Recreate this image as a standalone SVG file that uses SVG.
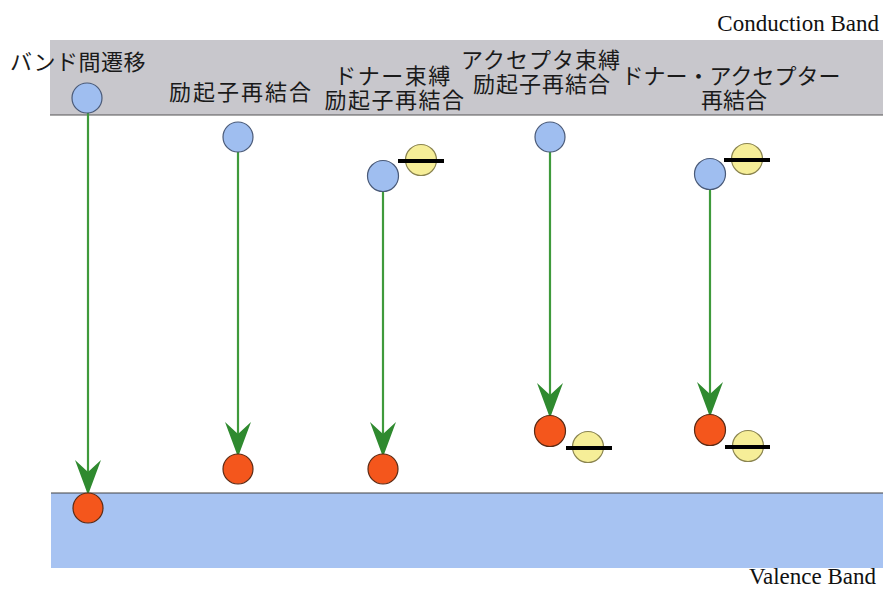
<svg xmlns="http://www.w3.org/2000/svg" width="883" height="590" viewBox="0 0 883 590">
<style>
.jp{font-family:"Noto Sans CJK JP","Noto Sans CJK SC",sans-serif;font-size:22px;fill:#1a1a1a;text-anchor:middle}
.en{font-family:"Liberation Serif","Times New Roman","DejaVu Serif",serif;font-size:23px;fill:#111;text-anchor:end}
.e{fill:#9fbef0;stroke:#4a5a78;stroke-width:1.2}
.h{fill:#f4561c;stroke:#5a2a14;stroke-width:1.2}
.y{fill:#f6ee98;stroke:#8a8450;stroke-width:1.2}
.bar{stroke:#000;stroke-width:4}
.ar{stroke:#3f9a3c;stroke-width:2.2;fill:none;marker-end:url(#ah)}
</style>
<defs>
<marker id="ah" markerUnits="userSpaceOnUse" viewBox="-38 -15 41 30" markerWidth="41" markerHeight="30" refX="-3" refY="0" orient="auto">
<path d="M0,0 L-35,-13 L-23,0 L-35,13 Z" fill="#2f8a2f"/>
</marker>
</defs>
<rect width="883" height="590" fill="#fff"/>
<g id="conduction-band">
<rect x="50" y="40" width="833" height="75" fill="#c8c7cc"/>
<line x1="50" y1="115" x2="883" y2="115" stroke="#555" stroke-width="1.2"/>
<text class="en" x="879" y="31">Conduction Band</text>
</g>
<g id="valence-band">
<rect x="51" y="493" width="832" height="75" fill="#a7c3f2"/>
<line x1="51" y1="493" x2="883" y2="493" stroke="#444" stroke-width="1.2"/>
<text class="en" x="876" y="584">Valence Band</text>
</g>
<g id="labels">
<text class="jp" x="78" y="70" letter-spacing="0.5">バンド間遷移</text>
<text class="jp" x="241" y="100" letter-spacing="2">励起子再結合</text>
<text class="jp" letter-spacing="1.5"><tspan x="393" y="84">ドナー束縛</tspan><tspan x="395" y="108">励起子再結合</tspan></text>
<text class="jp" letter-spacing="1"><tspan x="541" y="68">アクセプタ束縛</tspan><tspan x="542" y="92">励起子再結合</tspan></text>
<text class="jp"><tspan x="731" y="84">ドナー・アクセプター</tspan><tspan x="734" y="108">再結合</tspan></text>
</g>
<g id="connectors">
<line class="ar" x1="88" y1="113" x2="88" y2="492"/>
<line class="ar" x1="238" y1="152" x2="238" y2="454"/>
<line class="ar" x1="383" y1="191" x2="383" y2="454"/>
<line class="ar" x1="550" y1="152" x2="550" y2="415"/>
<line class="ar" x1="710" y1="190" x2="710" y2="414"/>
</g>
<g id="band-to-band">
<circle class="e" cx="87" cy="98" r="15"/>
<circle class="h" cx="88" cy="508" r="15"/>
</g>
<g id="free-exciton">
<circle class="e" cx="238" cy="137" r="15"/>
<circle class="h" cx="238" cy="469" r="15"/>
</g>
<g id="donor-bound">
<circle class="e" cx="383" cy="176" r="15.5"/>
<circle class="y" cx="421" cy="160" r="15.5"/>
<line class="bar" x1="398" y1="161" x2="444" y2="161"/>
<circle class="h" cx="383" cy="469" r="15"/>
</g>
<g id="acceptor-bound">
<circle class="e" cx="550" cy="137" r="15"/>
<circle class="h" cx="550" cy="431" r="15.5"/>
<circle class="y" cx="588" cy="447" r="15.5"/>
<line class="bar" x1="566" y1="448" x2="612" y2="448"/>
</g>
<g id="donor-acceptor">
<circle class="e" cx="710" cy="174" r="15.5"/>
<circle class="y" cx="747" cy="159" r="15.5"/>
<line class="bar" x1="724" y1="160" x2="770" y2="160"/>
<circle class="h" cx="710" cy="430" r="15.5"/>
<circle class="y" cx="748" cy="446" r="15.5"/>
<line class="bar" x1="725" y1="447" x2="770" y2="447"/>
</g>
</svg>
